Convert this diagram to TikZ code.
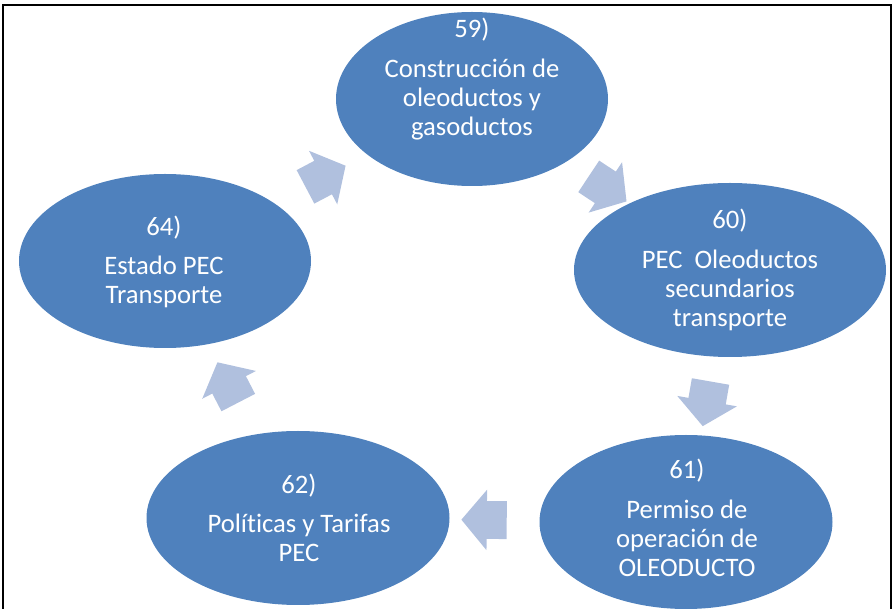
\documentclass[tikz,border=0pt]{standalone}
\usepackage{fontspec}
\setmainfont{Carlito}[Ligatures=NoCommon]
\usetikzlibrary{shapes.geometric,shapes.arrows}

\definecolor{cycblue}{RGB}{79,129,189}
\definecolor{arrowblue}{RGB}{176,192,222}

\begin{document}
\begin{tikzpicture}[x=0.75pt,y=-0.75pt,
    blob/.style={ellipse, fill=cycblue, inner sep=0pt},
    cyctext/.style={text=white, align=center, font={\fontsize{20}{21.75}\selectfont}},
    cycarrow/.style={single arrow, fill=arrowblue, inner xsep=0pt, inner ysep=14pt,
        minimum height=34pt,
        single arrow head extend=8.5pt, single arrow tip angle=100,
        sloped, allow upside down}]
    \useasboundingbox (0,0) rectangle (894,609);

    % frame
    \draw[line width=1.5pt] (3,609) -- (3,5) -- (891,5) -- (891,609);

    % ellipses
    \node[blob, minimum width=204pt, minimum height=130.5pt] (e59) at (472,99) {};
    \node[blob, minimum width=234pt, minimum height=130.5pt] (e60) at (730,270) {};
    \node[blob, minimum width=219.75pt, minimum height=130.5pt] (e61) at (686,522) {};
    \node[blob, minimum width=227.25pt, minimum height=130.5pt] (e62) at (298,518) {};
    \node[blob, minimum width=219pt, minimum height=130.5pt] (e64) at (165,261) {};

    % texts
    \node[cyctext] (t59) at (472,79) {59)\\[8pt]Construcción de\\oleoductos y\\gasoductos};
    \node[cyctext] (t60) at (730,270) {60)\\[8pt]PEC\ \ Oleoductos\\secundarios\\transporte};
    \node[cyctext] (t61) at (687,518) {61)\\[8pt]Permiso de\\operación de\\OLEODUCTO};
    \node[cyctext] (t62) at (299,518) {62)\\[8pt]Políticas y Tarifas\\PEC};
    \node[cyctext] (t64) at (164,262) {64)\\[8pt]Estado PEC\\Transporte};

    % arrows
    \path (e64.center) -- node[cycarrow] (a1) {} (e59.center);
    \path (e59.center) -- node[cycarrow] (a2) {} (e60.center);
    \path (e60.center) -- node[cycarrow] (a3) {} (e61.center);
    \path (e61.center) -- node[cycarrow] (a4) {} (e62.center);
    \path (e62.center) -- node[cycarrow] (a5) {} (e64.center);
\end{tikzpicture}
\end{document}
